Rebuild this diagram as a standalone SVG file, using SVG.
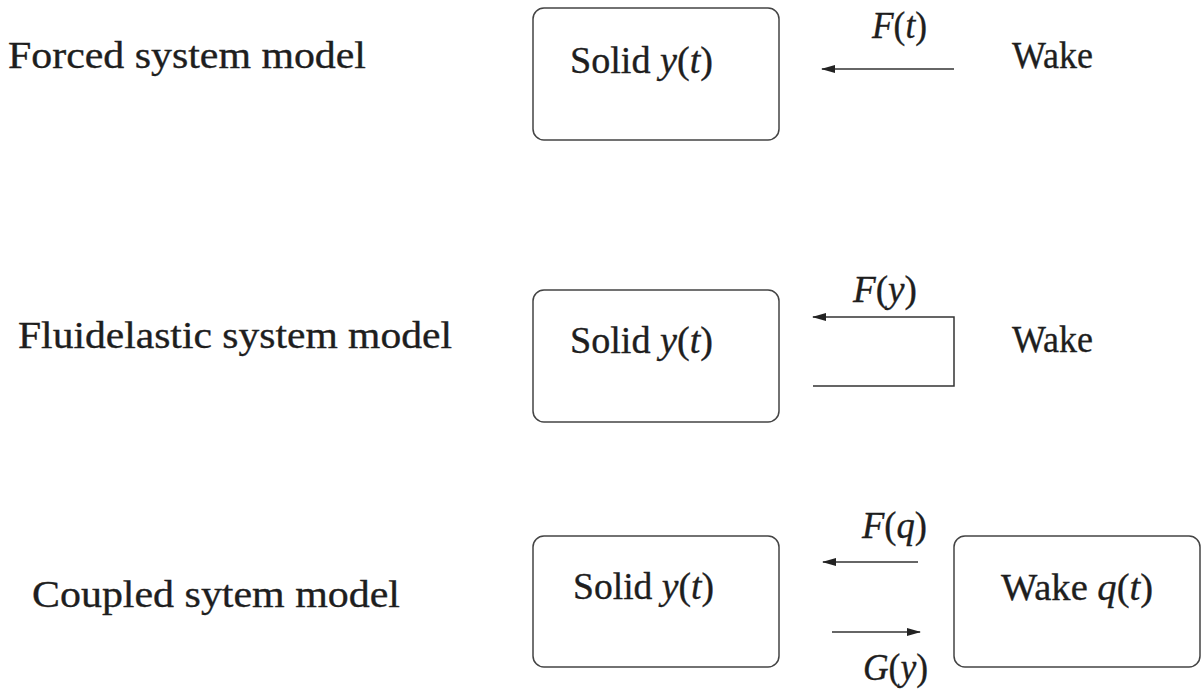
<svg xmlns="http://www.w3.org/2000/svg" width="1202" height="696" viewBox="0 0 1202 696" font-family="'Liberation Serif', 'DejaVu Serif', serif">
  <style>
    text { font-family: 'Liberation Serif', 'DejaVu Serif', serif; fill: #1e1e1e; stroke: #1e1e1e; stroke-width: 0.35; }
    .lbl { font-size: 38px; }
    .box { fill: none; stroke: #444; stroke-width: 1.5; }
    .conn { fill: none; stroke: #333; stroke-width: 1.5; }
    .i { font-style: italic; }
  </style>
  <defs>
    <marker id="ah" markerUnits="userSpaceOnUse" markerWidth="14" markerHeight="8" refX="13" refY="4" orient="auto">
      <path d="M0,0 L14,4 L0,8 z" fill="#222"/>
    </marker>
  </defs>
  <rect width="1202" height="696" fill="#ffffff"/>

  <g id="row-labels">
    <text class="lbl" x="8" y="68" textLength="358" lengthAdjust="spacingAndGlyphs">Forced system model</text>
    <text class="lbl" x="18" y="348" textLength="434" lengthAdjust="spacingAndGlyphs">Fluidelastic system model</text>
    <text class="lbl" x="32" y="607" textLength="368" lengthAdjust="spacingAndGlyphs">Coupled sytem model</text>
  </g>

  <g id="solid1">
    <rect class="box" x="533" y="8" width="246" height="132" rx="11"/>
    <text class="lbl" x="570" y="73" textLength="143" lengthAdjust="spacingAndGlyphs">Solid <tspan class="i">y</tspan>(<tspan class="i">t</tspan>)</text>
  </g>
  <g id="wake1">
    <text class="lbl" x="1012" y="68" textLength="81" lengthAdjust="spacingAndGlyphs">Wake</text>
  </g>

  <g id="solid2">
    <rect class="box" x="533" y="290" width="246" height="132" rx="11"/>
    <text class="lbl" x="570" y="353" textLength="143" lengthAdjust="spacingAndGlyphs">Solid <tspan class="i">y</tspan>(<tspan class="i">t</tspan>)</text>
  </g>
  <g id="wake2">
    <text class="lbl" x="1012" y="352" textLength="81" lengthAdjust="spacingAndGlyphs">Wake</text>
  </g>

  <g id="solid3">
    <rect class="box" x="533" y="536" width="246" height="131" rx="11"/>
    <text class="lbl" x="573" y="599" textLength="141" lengthAdjust="spacingAndGlyphs">Solid <tspan class="i">y</tspan>(<tspan class="i">t</tspan>)</text>
  </g>
  <g id="wake3">
    <rect class="box" x="954" y="536" width="246" height="131" rx="11"/>
    <text class="lbl" x="1001" y="600" textLength="152" lengthAdjust="spacingAndGlyphs">Wake <tspan class="i">q</tspan>(<tspan class="i">t</tspan>)</text>
  </g>

  <g id="connectors">
    <line class="conn" x1="954" y1="69" x2="822" y2="69" marker-end="url(#ah)"/>
    <path class="conn" d="M813,386 H954 V317 H813" marker-end="url(#ah)"/>
    <line class="conn" x1="918" y1="562" x2="823" y2="562" marker-end="url(#ah)"/>
    <line class="conn" x1="832" y1="632" x2="920" y2="632" marker-end="url(#ah)"/>
  </g>

  <g id="connector-labels">
    <text class="lbl" x="872" y="38" textLength="55" lengthAdjust="spacingAndGlyphs"><tspan class="i">F</tspan>(<tspan class="i">t</tspan>)</text>
    <text class="lbl" x="853" y="302" textLength="64" lengthAdjust="spacingAndGlyphs"><tspan class="i">F</tspan>(<tspan class="i">y</tspan>)</text>
    <text class="lbl" x="862" y="538" textLength="65" lengthAdjust="spacingAndGlyphs"><tspan class="i">F</tspan>(<tspan class="i">q</tspan>)</text>
    <text class="lbl" x="863" y="680" textLength="65" lengthAdjust="spacingAndGlyphs"><tspan class="i">G</tspan>(<tspan class="i">y</tspan>)</text>
  </g>
</svg>
